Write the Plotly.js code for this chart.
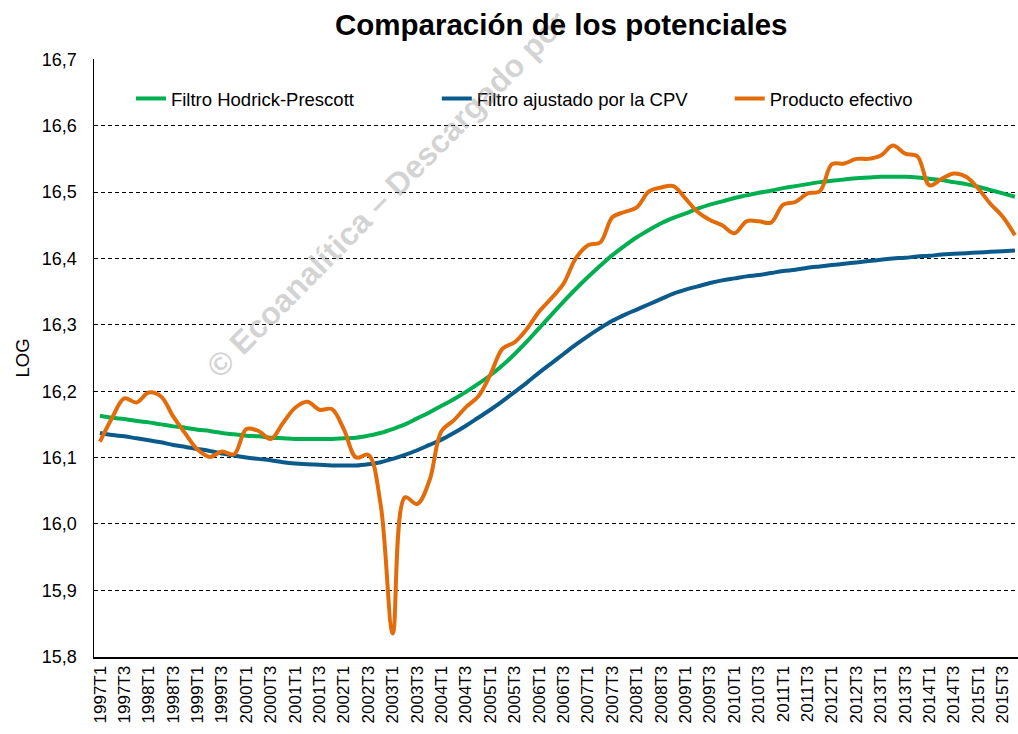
<!DOCTYPE html>
<html>
<head>
<meta charset="utf-8">
<script src="https://cdn.plot.ly/plotly-3.0.1.min.js"></script>
<style>html,body{margin:0;padding:0;background:#fff;}#chart{width:1018px;height:734px;}</style>
</head>
<body>
<div id="chart"></div>
<script>
// Categories: quarters 1997T1 .. 2015T4
const years = [1997,1998,1999,2000,2001,2002,2003,2004,2005,2006,2007,2008,2009,2010,2011,2012,2013,2014,2015];
const quarterNames = ['T1','T2','T3','T4'];
const quarters = [];
years.forEach(y => quarterNames.forEach(q => quarters.push(y + q)));

const chartTitle = 'Comparación de los potenciales';
const seriesNames = ['Filtro Hodrick-Prescott', 'Filtro ajustado por la CPV', 'Producto efectivo'];

const hodrickPrescott = [
  16.163,16.160,16.158,16.155,16.153,16.150,16.147,16.145,16.142,16.140,
  16.137,16.135,16.133,16.132,16.130,16.129,16.128,16.128,16.128,16.128,
  16.129,16.130,16.133,16.137,16.143,16.150,16.159,16.168,16.178,16.188,
  16.199,16.211,16.224,16.239,16.256,16.275,16.295,16.315,16.335,16.354,
  16.372,16.389,16.405,16.419,16.432,16.443,16.453,16.461,16.468,16.475,
  16.481,16.486,16.491,16.495,16.499,16.502,16.506,16.509,16.512,16.515,
  16.517,16.519,16.521,16.522,16.523,16.523,16.523,16.522,16.520,16.518,
  16.515,16.512,16.508,16.503,16.498,16.493
];

const ajustadoCPV = [
  16.137,16.134,16.132,16.129,16.126,16.123,16.119,16.116,16.113,16.110,
  16.106,16.103,16.100,16.098,16.096,16.093,16.091,16.090,16.089,16.088,
  16.088,16.088,16.090,16.093,16.098,16.104,16.111,16.119,16.127,16.137,
  16.148,16.160,16.172,16.185,16.199,16.213,16.228,16.242,16.256,16.270,
  16.283,16.295,16.306,16.315,16.323,16.331,16.339,16.347,16.353,16.358,
  16.363,16.367,16.370,16.373,16.375,16.378,16.381,16.383,16.386,16.388,
  16.390,16.392,16.394,16.396,16.398,16.400,16.401,16.403,16.404,16.406,
  16.407,16.408,16.409,16.410,16.411,16.412
];

const productoEfectivo = [
  16.124,16.160,16.189,16.183,16.198,16.192,16.162,16.136,16.112,16.101,
  16.109,16.105,16.143,16.140,16.128,16.152,16.175,16.184,16.172,16.173,
  16.142,16.100,16.104,16.030,15.835,16.040,16.030,16.065,16.140,16.156,
  16.176,16.192,16.225,16.264,16.274,16.294,16.320,16.340,16.362,16.400,
  16.420,16.424,16.462,16.470,16.477,16.501,16.507,16.509,16.490,16.470,
  16.458,16.450,16.438,16.456,16.456,16.454,16.481,16.485,16.498,16.501,
  16.542,16.543,16.550,16.550,16.555,16.570,16.558,16.554,16.510,16.520,
  16.528,16.523,16.505,16.482,16.463,16.435
];

const yTicks = [15.8,15.9,16.0,16.1,16.2,16.3,16.4,16.5,16.6,16.7];
const xTickLabels = quarters.filter((q, i) => i % 2 === 0);

const FONT = 'Liberation Sans, Arial, sans-serif';

const traces = [
  {x: quarters, y: hodrickPrescott, name: seriesNames[0], type: 'scatter', mode: 'lines',
   line: {color: '#00B050', width: 4, shape: 'spline', smoothing: 1}, legend: 'legend'},
  {x: quarters, y: ajustadoCPV, name: seriesNames[1], type: 'scatter', mode: 'lines',
   line: {color: '#0B5A8C', width: 4, shape: 'spline', smoothing: 1}, legend: 'legend2'},
  {x: quarters, y: productoEfectivo, name: seriesNames[2], type: 'scatter', mode: 'lines',
   line: {color: '#E36C0A', width: 4, shape: 'spline', smoothing: 1}, legend: 'legend3'}
];

const legendBase = {orientation: 'h', yanchor: 'top', xanchor: 'left', y: 0.965,
  font: {family: FONT, size: 18.5, color: '#000'}, bgcolor: 'rgba(0,0,0,0)', borderwidth: 0};

const layout = {
  width: 1018, height: 734,
  margin: {l: 94, r: 0, t: 59, b: 77, pad: 0},
  paper_bgcolor: '#fff', plot_bgcolor: '#fff',
  separators: ',.',
  font: {family: FONT, color: '#000'},
  showlegend: true,
  legend: Object.assign({}, legendBase, {x: 0.040}),
  legend2: Object.assign({}, legendBase, {x: 0.371}),
  legend3: Object.assign({}, legendBase, {x: 0.688}),
  xaxis: {
    type: 'category', categoryorder: 'array', categoryarray: quarters,
    range: [-0.49, 75.25],
    tickmode: 'array', tickvals: xTickLabels, ticktext: xTickLabels,
    tickangle: -90, tickfont: {family: FONT, size: 17, color: '#000'},
    ticks: '', ticklabelstandoff: 0,
    showgrid: false, zeroline: false,
    showline: true, linecolor: '#000', linewidth: 2
  },
  yaxis: {
    range: [15.7995, 16.7005], tickmode: 'array', tickvals: yTicks, tickformat: '.1f',
    tickfont: {family: FONT, size: 18, color: '#000'},
    ticks: '', ticklabelstandoff: 12,
    showgrid: true, gridcolor: '#000', gridwidth: 1, griddash: '4px,3px',
    zeroline: false, showline: true, linecolor: '#000', linewidth: 1.5,
    title: {text: 'LOG', font: {family: FONT, size: 18.5, color: '#000'}, standoff: 7}
  },
  annotations: [
    {
      text: '© Ecoanalítica – Descargado por', xref: 'paper', yref: 'paper',
      x: 0.3176, y: 0.7736, xanchor: 'center', yanchor: 'middle', showarrow: false,
      textangle: -45.5, font: {family: FONT, size: 32, weight: 'bold', color: 'rgba(140,140,140,0.38)'}
    },
    {
      text: chartTitle, xref: 'paper', yref: 'paper',
      x: 0.5054, y: 1.0585, xanchor: 'center', yanchor: 'middle', showarrow: false,
      font: {family: FONT, size: 29.5, weight: 'bold', color: '#000'}
    }
  ]
};

Plotly.newPlot('chart', traces, layout, {displayModeBar: false, staticPlot: true});
</script>
</body>
</html>
